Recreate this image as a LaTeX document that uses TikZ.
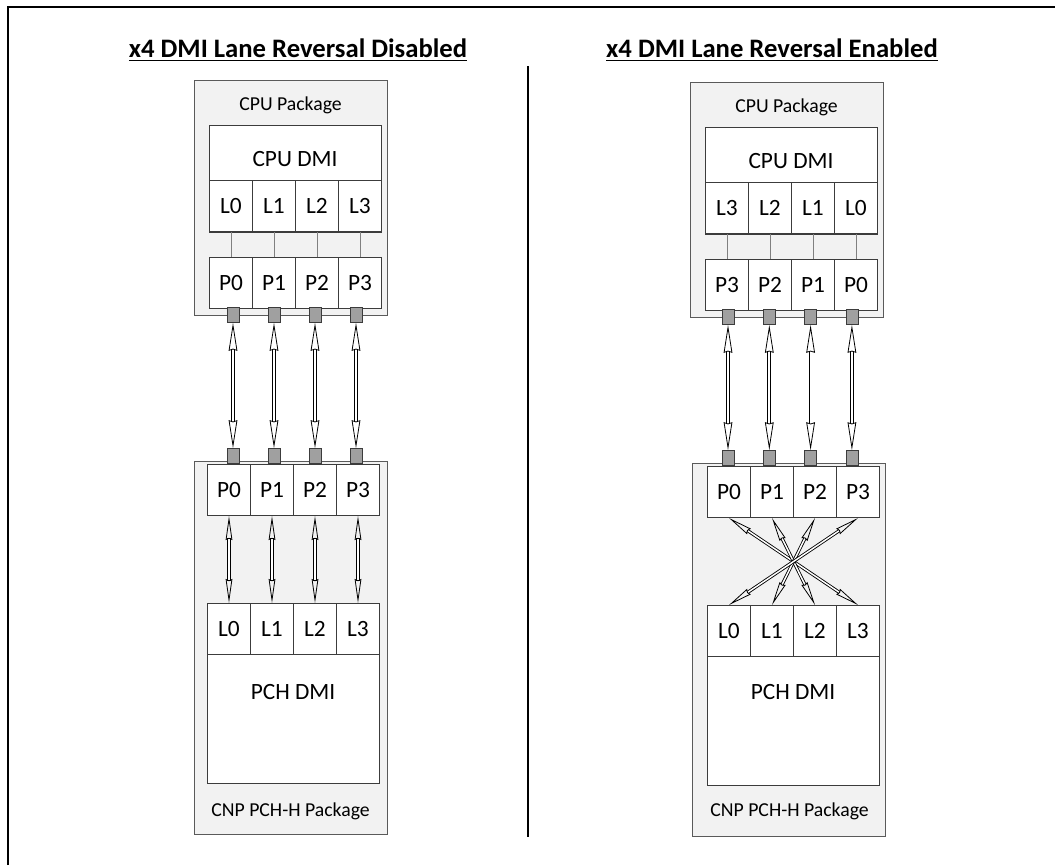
\documentclass[tikz,border=0pt]{standalone}
\usepackage{fontspec}
\setmainfont{Carlito}
\usetikzlibrary{arrows.meta,positioning}

\definecolor{pkgfill}{HTML}{F2F2F2}
\definecolor{pkgline}{HTML}{5A5A5A}
\definecolor{boxline}{HTML}{3C3C3C}
\definecolor{padfill}{HTML}{A0A0A0}

\tikzset{
	pkg/.style = {draw = pkgline, fill = pkgfill, line width = 0.8pt, inner sep = 0pt},
	block/.style = {draw = boxline, fill = white, line width = 0.75pt, inner sep = 0pt},
	lane/.style = {block, minimum width = 32.25pt, minimum height = 38.25pt, font = \fontsize{17.5}{18}\selectfont},
	pad/.style = {draw = boxline, fill = padfill, line width = 0.6pt, minimum width = 9pt, minimum height = 11.25pt, inner sep = 0pt},
	pkglabel/.style = {font = \fontsize{14.8}{16}\selectfont},
	dmilabel/.style = {font = \fontsize{17.5}{18}\selectfont},
	title/.style = {font = \fontsize{20}{22}\selectfont\bfseries},
	link/.style = {draw = gray, line width = 0.6pt},
	bus/.style = {double = white, double distance = 1.4pt, line width = 0.7pt,
		{Stealth[open, length = 21pt, width = 6.5pt, inset = 1pt, line width = 0.6pt]}-{Stealth[open, length = 21pt, width = 6.5pt, inset = 1pt, line width = 0.6pt]}},
	lanebus/.style = {double = white, double distance = 1.1pt, line width = 0.65pt,
		{Stealth[open, length = 18pt, width = 5pt, inset = 1pt, line width = 0.6pt]}-{Stealth[open, length = 18pt, width = 5pt, inset = 1pt, line width = 0.6pt]}}
}

\begin{document}
\begin{tikzpicture}[x = 0.75pt, y = -0.75pt]
	\useasboundingbox (0,0) rectangle (1055,865);

	% frame and divider
	\draw [line width = 1.7pt] (8,865) -- (8,7) -- (1055,7);
	\draw [line width = 2.2pt] (528,66) -- (528,837);

	\node (t1)[title] at (298,50) {\underline{x4 DMI Lane Reversal Disabled}};
	\node (t2)[title] at (772,50) {\underline{x4 DMI Lane Reversal Enabled}};

	% left: lane reversal disabled
	\node (cpkg)[pkg, minimum width = 144.75pt, minimum height = 176.25pt, anchor = north west] at (194,80) {};
	\node (cpkgl)[pkglabel] at (290.5,105) {CPU Package};
	\node (cdmi)[block, minimum width = 129pt, minimum height = 80.25pt, anchor = north west] at (209,125) {};
	\node (cdmil)[dmilabel] at (295,159) {CPU DMI};
	\foreach \i in {0,...,3} {
		\node (cl\i)[lane, anchor = south west] at ({209+43*\i},232) {L\i};
		\node (cp\i)[lane, anchor = north west] at ({209+43*\i},257) {P\i};
		\draw [link](cl\i)--(cp\i);
		\node (ct\i)[pad, anchor = north] at ({233+41*\i},307) {};
	}

	\node (ppkg)[pkg, minimum width = 144.75pt, minimum height = 279.75pt, anchor = north west] at (194,461) {};
	\node (pdmi)[block, minimum width = 129pt, minimum height = 135pt, anchor = north west] at (207,603) {};
	\node (pdmil)[dmilabel] at (293,692) {PCH DMI};
	\node (ppkgl)[pkglabel] at (290.5,811) {CNP PCH-H Package};
	\foreach \i in {0,...,3} {
		\node (pp\i)[lane, anchor = north west] at ({207+43*\i},464) {P\i};
		\node (pl\i)[lane, anchor = north west] at ({207+43*\i},603) {L\i};
		\node (pb\i)[pad, anchor = south] at ({233+41*\i},464) {};
	}
	\foreach \i in {0,...,3} {
		\draw [bus](ct\i)--(pb\i);
		\draw [lanebus](pp\i)--(pl\i);
	}

	% right: lane reversal enabled
	\node (rcpkg)[pkg, minimum width = 144.75pt, minimum height = 176.25pt, anchor = north west] at (690,82) {};
	\node (rcpkgl)[pkglabel] at (786.5,107) {CPU Package};
	\node (rcdmi)[block, minimum width = 129pt, minimum height = 80.25pt, anchor = north west] at (705,127) {};
	\node (rcdmil)[dmilabel] at (791,161) {CPU DMI};
	\foreach \i/\k in {0/3,1/2,2/1,3/0} {
		\node (rcl\k)[lane, anchor = south west] at ({705+43*\i},234) {L\k};
		\node (rcp\k)[lane, anchor = north west] at ({705+43*\i},259) {P\k};
		\draw [link](rcl\k)--(rcp\k);
		\node (rct\k)[pad, anchor = north] at ({728+41.3*\i},309) {};
	}

	\node (rppkg)[pkg, minimum width = 144.75pt, minimum height = 279.75pt, anchor = north west] at (692,463) {};
	\node (rpdmi)[block, minimum width = 129pt, minimum height = 135pt, anchor = north west] at (707,605) {};
	\node (rpdmil)[dmilabel] at (793,692) {PCH DMI};
	\node (rppkgl)[pkglabel] at (789.5,811) {CNP PCH-H Package};
	\foreach \i/\k in {0/3,1/2,2/1,3/0} {
		\node (rpp\i)[lane, anchor = north west] at ({707+43*\i},466) {P\i};
		\node (rpl\i)[lane, anchor = north west] at ({707+43*\i},605) {L\i};
		\node (rpb\i)[pad, anchor = south] at ({728+41.3*\i},466) {};
	}
	\foreach \i/\k in {0/3,1/2,2/1,3/0} {
		\draw [bus](rct\k)--(rpb\i);
		\draw [lanebus](rpp\i.south)--(rpl\k.north);
	}
\end{tikzpicture}
\end{document}
